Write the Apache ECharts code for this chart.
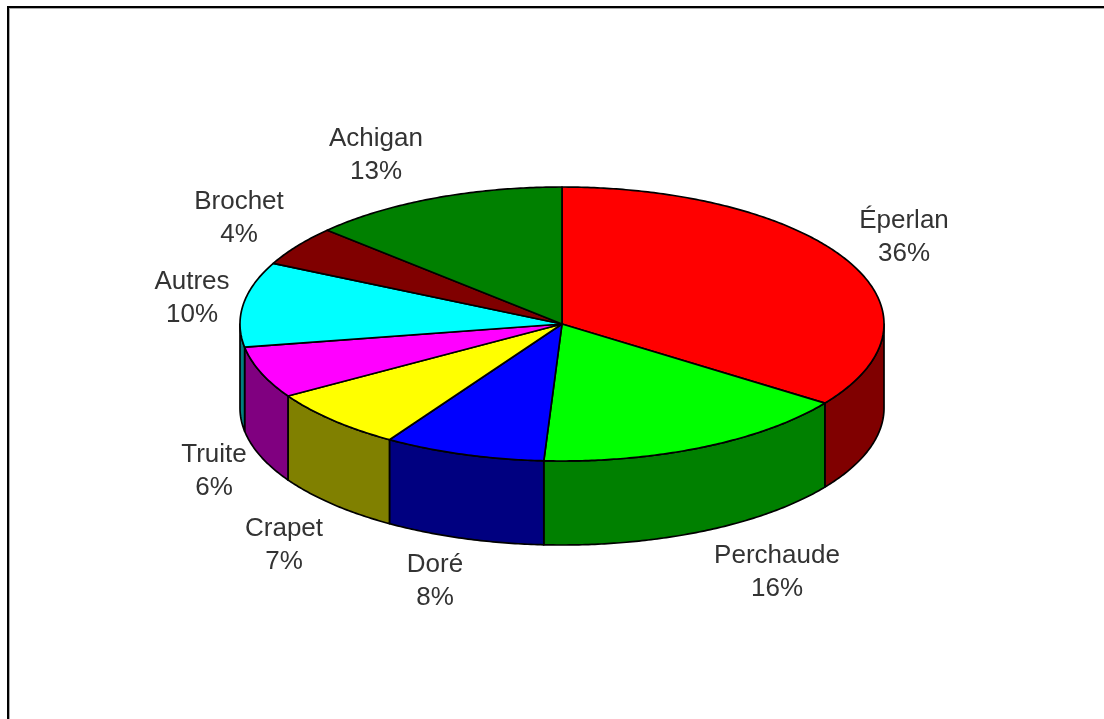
<!DOCTYPE html>
<html><head><meta charset="utf-8">
<style>html,body{margin:0;padding:0;background:#fff}#c{width:1104px;height:719px}</style>
<script src="https://cdn.jsdelivr.net/npm/echarts@6/dist/echarts.min.js"></script>
</head><body><div id="c"></div>
<script>
const categories = ['Éperlan','Perchaude','Doré','Crapet','Truite','Autres','Brochet','Achigan'];
const sliceShares = [34.8,16.1,8.1,7.2,6.1,10,4.7,13];
const percentLabels = ['36%','16%','8%','7%','6%','10%','4%','13%'];
const topColors = ['#ff0000','#00ff00','#0000ff','#ffff00','#ff00ff','#00ffff','#800000','#008000'];
const sideColors = ['#800000','#008000','#000080','#808000','#800080','#008080','#800000','#008000'];

// layout
const CX=562, CY=324, RX=322, RY=137, DEPTH=84;
const labelCenters=[[904,237],[777,572],[435,581],[284,545],[214,471],[192,298],[239,218],[376,155]];
const total=sliceShares.reduce((a,b)=>a+b,0);
const cum=[0]; sliceShares.forEach(v=>cum.push(cum[cum.length-1]+v));
const ang=p=>p/total*2*Math.PI;
const pt=(t,dy)=>[CX+RX*Math.sin(t),CY-RY*Math.cos(t)+(dy||0)];
function arc(a,b,dy){const n=Math.max(2,Math.ceil((b-a)/0.01));const r=[];for(let i=0;i<=n;i++)r.push(pt(a+(b-a)*i/n,dy));return r;}

function renderSide(params,api){
  const i=params.dataIndex;
  const a=Math.max(ang(cum[i]),Math.PI/2), b=Math.min(ang(cum[i+1]),Math.PI*1.5);
  if(b<=a) return {type:'group',children:[]};
  const top=arc(a,b,0), bot=arc(a,b,DEPTH).reverse();
  return {type:'polygon',shape:{points:top.concat(bot)},
    style:{fill:sideColors[i],stroke:'#000',lineWidth:1.7,lineJoin:'round'}};
}
function renderTop(params,api){
  const i=params.dataIndex;
  const pts=[[CX,CY]].concat(arc(ang(cum[i]),ang(cum[i+1]),0));
  return {type:'polygon',shape:{points:pts},
    style:{fill:topColors[i],stroke:'#000',lineWidth:1.7,lineJoin:'round'}};
}
function renderLabel(params,api){
  const i=params.dataIndex;
  return {type:'text',x:labelCenters[i][0],y:labelCenters[i][1],
    style:{text:categories[i]+'\n'+percentLabels[i],fill:'#333',align:'center',verticalAlign:'middle',
      font:'26px "Liberation Sans", Arial, sans-serif',lineHeight:33}};
}
const chart=echarts.init(document.getElementById('c'),null,{renderer:'canvas'});
const seriesData=sliceShares.map((v,i)=>({name:categories[i],value:v}));
chart.setOption({
  animation:false,backgroundColor:'#fff',
  graphic:[
    {type:'rect',shape:{x:7,y:6,width:1097,height:2},style:{fill:'#000'},silent:true},
    {type:'rect',shape:{x:7,y:6,width:2,height:713},style:{fill:'#000'},silent:true},
    {type:'rect',shape:{x:9,y:8,width:1095,height:1},style:{fill:'#aaa'},silent:true},
    {type:'rect',shape:{x:9,y:8,width:1,height:711},style:{fill:'#aaa'},silent:true}
  ],
  series:[
    {type:'custom',coordinateSystem:'none',renderItem:renderSide,data:seriesData,z:1,silent:true},
    {type:'custom',coordinateSystem:'none',renderItem:renderTop,data:seriesData,z:2,silent:true},
    {type:'custom',coordinateSystem:'none',renderItem:renderLabel,data:seriesData,z:3,silent:true}
  ]
});
</script></body></html>
